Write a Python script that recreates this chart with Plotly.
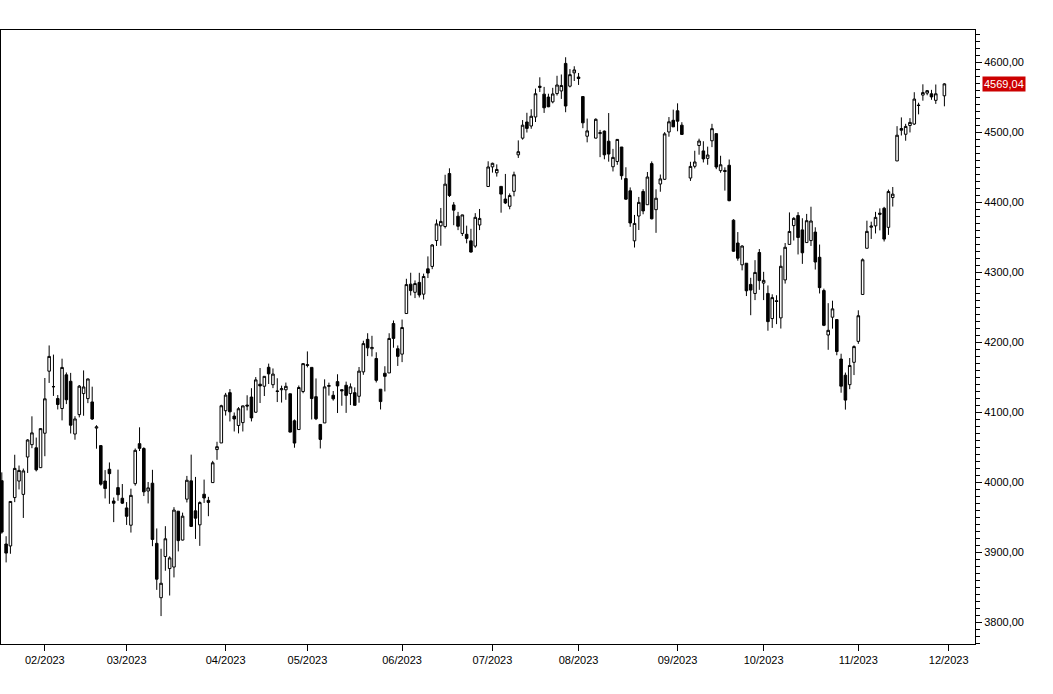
import pandas as pd
import plotly.graph_objects as go

# ---------------- data ----------------
holidays = ["2023-02-20", "2023-04-07", "2023-05-29", "2023-06-19",
            "2023-07-04", "2023-09-04", "2023-11-23", "2023-12-25"]
missing_sessions = ["2023-06-29", "2023-08-04", "2023-09-06", "2023-11-29"]
first_date, last_date = "2023-01-17", "2023-11-30"

month_labels = ["02/2023", "03/2023", "04/2023", "05/2023", "06/2023", "07/2023",
                "08/2023", "09/2023", "10/2023", "11/2023", "12/2023"]
y_ticks = [3800, 3900, 4000, 4100, 4200, 4300, 4400, 4500, 4600]

open_prices = [
    3999.28, 4002.25, 3911.84, 3909.04, 3978.14, 4001.74, 3982.71, 4036.08, 4053.72, 4049.27, 4020.85,
    4070.07, 4158.68, 4136.69, 4119.57, 4105.35, 4153.47, 4144.25, 4068.92, 4096.62, 4126.70, 4119.50, 4114.75, 4077.39, 4052.35, 4001.83, 4018.60, 3973.24, 3992.36, 3977.19,
    3963.34, 3938.68, 3998.02, 4055.15, 4048.26, 3987.55, 3998.66, 3912.77, 3835.12, 3894.01, 3876.74, 3878.93, 3958.69, 3917.47, 3975.89, 4002.04, 3959.21, 3939.21, 3982.93, 3974.13, 3999.53, 4046.74, 4056.18,
    4102.20, 4128.03, 4094.50, 4081.15, 4085.20, 4110.29, 4121.72, 4100.04, 4140.11, 4137.17, 4164.26, 4139.33, 4130.48, 4132.14, 4132.07, 4126.43, 4087.78, 4075.29, 4129.63,
    4166.79, 4164.10, 4122.25, 4082.61, 4084.73, 4136.98, 4124.25, 4143.74, 4132.24, 4138.54, 4126.65, 4127.95, 4122.85, 4157.68, 4204.15, 4190.78, 4176.80, 4132.96, 4155.71, 4156.16, 4226.71, 4190.74,
    4183.03, 4241.01, 4282.99, 4271.34, 4285.47, 4268.69, 4304.88, 4308.32, 4345.28, 4366.29, 4365.33, 4440.95, 4396.11, 4380.01, 4355.40, 4354.17, 4344.84, 4337.36, 4367.48, 4422.44,
    4450.48, 4442.04, 4422.62, 4404.54, 4394.23, 4415.55, 4467.69, 4491.50, 4514.61, 4508.86, 4521.78, 4563.87, 4554.38, 4550.16, 4543.39, 4555.19, 4558.96, 4598.26, 4565.75, 4584.82,
    4578.83, 4550.93, 4494.27, 4491.58, 4498.03, 4501.57, 4487.16, 4450.69, 4458.13, 4478.87, 4433.79, 4416.32, 4344.88, 4380.28, 4415.33, 4396.44, 4455.16, 4389.38, 4426.03, 4432.75, 4500.34, 4517.01,
    4530.60, 4510.06, 4434.55, 4451.30, 4480.98, 4473.27, 4462.65, 4487.78, 4497.98, 4445.13, 4445.41, 4452.81, 4374.36, 4341.74, 4310.62, 4312.88, 4282.63, 4269.65, 4328.18,
    4284.52, 4269.75, 4233.83, 4259.31, 4234.79, 4289.02, 4339.75, 4366.59, 4380.94, 4360.49, 4342.37, 4345.23, 4357.35, 4321.36, 4273.85, 4210.40, 4235.79, 4232.42, 4175.99, 4152.93, 4139.39, 4171.33,
    4201.27, 4268.26, 4334.23, 4364.27, 4366.21, 4384.37, 4391.41, 4364.15, 4406.66, 4458.97, 4505.30, 4497.08, 4509.55, 4511.70, 4538.77, 4553.04, 4555.84, 4554.86, 4545.55, 4552.00,
]
high_prices = [
    4015.39, 4014.16, 3922.94, 3972.96, 4039.31, 4023.92, 4019.55, 4061.57, 4094.21, 4063.85, 4077.16,
    4148.95, 4195.44, 4182.36, 4124.63, 4176.54, 4156.85, 4156.23, 4094.36, 4138.90, 4159.77, 4148.11, 4136.54, 4081.51, 4052.35, 4017.37, 4028.30, 3978.25, 4018.05, 3997.50,
    3971.73, 3990.84, 4048.29, 4078.49, 4050.00, 4000.41, 4017.81, 3934.05, 3905.05, 3937.29, 3894.26, 3964.46, 3958.91, 3956.62, 4009.08, 4039.49, 4007.66, 3972.74, 4003.83, 3979.20, 4030.59, 4057.85, 4110.75,
    4127.66, 4133.13, 4099.69, 4107.32, 4109.50, 4124.26, 4134.37, 4150.26, 4163.19, 4151.72, 4169.48, 4162.57, 4148.57, 4138.02, 4142.41, 4126.43, 4089.67, 4138.24, 4170.06,
    4186.92, 4164.10, 4148.30, 4082.61, 4147.02, 4142.30, 4130.35, 4154.28, 4132.80, 4143.74, 4141.25, 4135.54, 4164.67, 4202.20, 4212.91, 4209.22, 4185.68, 4132.96, 4165.74, 4212.87, 4231.10, 4195.44,
    4232.43, 4290.67, 4299.28, 4288.33, 4299.19, 4298.01, 4322.62, 4340.13, 4375.37, 4391.82, 4439.20, 4448.47, 4400.15, 4386.22, 4382.25, 4366.55, 4362.06, 4384.42, 4390.35, 4458.48,
    4456.46, 4454.06, 4422.62, 4440.39, 4412.60, 4443.64, 4488.34, 4517.38, 4527.76, 4532.85, 4562.30, 4578.43, 4564.74, 4555.00, 4563.41, 4580.62, 4582.47, 4607.07, 4590.16, 4594.22,
    4584.62, 4550.93, 4519.49, 4519.84, 4503.31, 4502.44, 4527.37, 4476.23, 4490.33, 4478.87, 4449.95, 4421.17, 4381.82, 4407.55, 4418.59, 4443.18, 4458.30, 4418.46, 4439.56, 4500.14, 4521.65, 4532.26,
    4541.25, 4514.29, 4457.81, 4473.53, 4490.77, 4487.11, 4479.39, 4511.99, 4497.98, 4466.36, 4449.85, 4461.03, 4375.70, 4357.40, 4338.51, 4313.01, 4292.07, 4317.27, 4333.15,
    4300.58, 4281.15, 4268.50, 4267.13, 4324.10, 4341.73, 4385.46, 4378.64, 4385.85, 4377.10, 4383.33, 4393.57, 4364.20, 4339.54, 4276.56, 4255.84, 4259.38, 4232.42, 4183.60, 4156.70, 4177.47, 4195.55,
    4245.64, 4319.72, 4373.62, 4372.21, 4386.26, 4391.20, 4393.40, 4418.03, 4421.76, 4508.67, 4521.17, 4511.99, 4520.12, 4557.11, 4542.14, 4568.43, 4560.31, 4560.52, 4568.14, 4570.00,
]
low_prices = [
    3984.57, 3926.59, 3885.54, 3897.86, 3971.64, 3989.79, 3949.06, 4013.29, 4048.70, 4015.55, 4020.44,
    4037.20, 4141.88, 4123.36, 4103.98, 4088.39, 4111.67, 4069.67, 4060.79, 4092.67, 4095.01, 4113.02, 4089.03, 4047.95, 3995.19, 3976.90, 3969.19, 3943.08, 3973.55, 3968.98,
    3939.05, 3928.16, 3995.17, 4044.61, 3980.31, 3969.76, 3908.70, 3846.32, 3808.86, 3873.63, 3838.24, 3864.11, 3901.27, 3916.89, 3971.19, 3936.17, 3919.05, 3909.16, 3970.49, 3951.53, 3999.53, 4032.10, 4056.18,
    4095.31, 4086.87, 4072.56, 4069.84, 4072.55, 4102.61, 4086.94, 4099.40, 4113.20, 4123.18, 4140.36, 4134.49, 4114.57, 4113.86, 4117.77, 4071.38, 4049.35, 4075.29, 4127.18,
    4164.12, 4089.72, 4088.86, 4048.28, 4084.73, 4123.81, 4116.65, 4098.92, 4109.29, 4099.12, 4110.27, 4109.86, 4113.62, 4153.50, 4180.20, 4179.68, 4142.54, 4103.98, 4129.73, 4156.16, 4192.18, 4166.15,
    4171.64, 4241.01, 4266.82, 4263.09, 4263.96, 4261.07, 4291.70, 4304.37, 4337.54, 4337.85, 4362.60, 4407.44, 4367.19, 4360.14, 4351.82, 4341.34, 4328.08, 4335.00, 4360.22, 4422.44,
    4442.29, 4436.61, 4385.05, 4397.40, 4389.92, 4408.46, 4463.23, 4489.36, 4499.56, 4504.90, 4514.59, 4557.48, 4527.56, 4535.79, 4541.29, 4552.42, 4547.58, 4528.56, 4564.01, 4573.14,
    4567.53, 4505.75, 4485.54, 4491.15, 4464.39, 4461.33, 4457.92, 4443.98, 4453.44, 4432.19, 4403.55, 4364.83, 4335.31, 4360.30, 4382.77, 4396.44, 4375.55, 4356.29, 4414.98, 4431.68, 4493.59, 4507.39,
    4501.35, 4496.01, 4430.46, 4448.38, 4467.89, 4456.83, 4453.52, 4478.69, 4447.21, 4442.11, 4416.61, 4401.38, 4329.17, 4316.49, 4302.70, 4265.98, 4238.63, 4260.21, 4274.86,
    4260.21, 4216.45, 4220.48, 4225.91, 4219.55, 4283.79, 4339.64, 4345.34, 4325.43, 4311.97, 4342.37, 4337.54, 4303.84, 4269.69, 4223.03, 4189.22, 4219.43, 4181.42, 4127.90, 4103.78, 4132.94, 4153.12,
    4197.74, 4268.26, 4334.23, 4347.53, 4355.41, 4359.76, 4343.94, 4353.34, 4393.82, 4458.97, 4495.31, 4487.83, 4499.66, 4510.36, 4525.51, 4545.05, 4552.80, 4546.32, 4540.51, 4537.00,
]
close_prices = [
    3990.97, 3928.86, 3898.85, 3972.61, 4019.81, 4016.95, 4016.22, 4060.43, 4070.56, 4017.77, 4076.60,
    4119.21, 4179.76, 4136.48, 4111.08, 4164.00, 4117.86, 4081.50, 4090.46, 4137.29, 4136.13, 4147.60, 4090.41, 4079.09, 3997.34, 3991.05, 4012.32, 3970.04, 3982.24, 3970.15,
    3951.39, 3981.35, 4045.64, 4048.42, 3986.37, 3992.01, 3918.32, 3861.59, 3855.76, 3919.29, 3891.93, 3960.28, 3916.64, 3951.57, 4002.87, 3936.97, 3948.72, 3970.99, 3977.53, 3971.27, 4027.81, 4050.83, 4109.31,
    4124.51, 4100.60, 4090.38, 4105.02, 4109.11, 4108.94, 4091.95, 4146.22, 4137.64, 4151.32, 4154.87, 4154.52, 4129.79, 4133.52, 4137.04, 4071.63, 4055.99, 4135.35, 4169.48,
    4167.87, 4119.58, 4090.75, 4061.22, 4136.25, 4138.12, 4119.17, 4137.64, 4130.62, 4124.08, 4136.28, 4109.90, 4158.77, 4198.05, 4191.98, 4192.63, 4145.58, 4115.24, 4151.28, 4205.45, 4205.52, 4179.83,
    4221.02, 4282.37, 4273.79, 4283.85, 4267.52, 4293.93, 4298.86, 4338.93, 4369.01, 4372.59, 4425.84, 4409.59, 4388.71, 4365.69, 4381.89, 4348.33, 4328.82, 4378.41, 4376.86, 4450.38,
    4455.59, 4446.82, 4411.59, 4398.95, 4409.53, 4439.26, 4472.16, 4510.04, 4505.42, 4522.79, 4554.98, 4565.72, 4534.87, 4536.34, 4554.64, 4567.46, 4566.75, 4537.41, 4582.23, 4588.96,
    4576.73, 4513.39, 4501.89, 4518.44, 4499.38, 4467.71, 4468.83, 4464.05, 4489.72, 4437.86, 4404.33, 4370.36, 4369.71, 4399.77, 4387.55, 4436.01, 4376.31, 4405.71, 4433.31, 4497.63, 4514.87, 4507.66,
    4515.77, 4496.83, 4451.14, 4457.49, 4487.46, 4461.90, 4467.44, 4505.10, 4450.32, 4453.53, 4443.95, 4402.20, 4330.00, 4320.06, 4337.44, 4273.53, 4274.51, 4299.70, 4288.05,
    4288.39, 4229.45, 4263.75, 4258.19, 4308.50, 4335.66, 4358.24, 4376.95, 4349.61, 4327.78, 4373.63, 4373.20, 4314.60, 4278.00, 4224.16, 4217.04, 4247.68, 4186.77, 4137.23, 4117.37, 4166.82, 4193.80,
    4237.86, 4317.78, 4358.34, 4365.98, 4378.38, 4382.78, 4347.35, 4415.24, 4411.55, 4495.70, 4502.88, 4508.24, 4514.02, 4547.38, 4538.19, 4556.62, 4559.34, 4550.43, 4554.89, 4569.04,
]

# ---------------- trading-day calendar (one slot per session) ----------------
calendar = [d for d in pd.bdate_range(first_date, "2023-12-29")
            if d.strftime("%Y-%m-%d") not in holidays]
slot = {d: i for i, d in enumerate(calendar)}
dates = [d for d in calendar
         if d <= pd.Timestamp(last_date) and d.strftime("%Y-%m-%d") not in missing_sessions]
assert len(dates) == len(open_prices) == len(high_prices) == len(low_prices) == len(close_prices)
x_pos = [slot[d] for d in dates]

tick_vals = []
for lab in month_labels:
    mm, yy = lab.split("/")
    first = next(d for d in calendar if d.month == int(mm) and d.year == int(yy))
    tick_vals.append(slot[first])

font = dict(family="Arial, Liberation Sans, sans-serif", size=11, color="black")

fig = go.Figure(go.Candlestick(
    x=x_pos, open=open_prices, high=high_prices, low=low_prices, close=close_prices,
    increasing=dict(fillcolor="white", line=dict(color="black", width=1)),
    decreasing=dict(fillcolor="black", line=dict(color="black", width=1)),
    whiskerwidth=0,
    hoverinfo="skip",
))

last_close = close_prices[-1]
fig.add_annotation(
    x=1, xref="paper", xanchor="left", xshift=7,
    y=last_close, yref="y", yanchor="middle",
    text=f"{last_close:.2f}".replace(".", ","),
    showarrow=False, font=dict(family=font["family"], size=11, color="white"),
    bgcolor="#cc0000", borderpad=1,
)

fig.update_layout(
    width=1053, height=694,
    margin=dict(l=1, r=78, t=30, b=50),
    paper_bgcolor="white", plot_bgcolor="white",
    showlegend=False, font=font, separators=",.",
    boxgap=0.15,
    xaxis=dict(
        range=[0.813, 227.11], rangeslider=dict(visible=False),
        tickmode="array", tickvals=tick_vals, ticktext=month_labels,
        showgrid=False, zeroline=False,
        showline=True, mirror=True, linecolor="black", linewidth=1,
        ticks="outside", ticklen=6, tickcolor="black", tickwidth=1,
        tickfont=font,
    ),
    yaxis=dict(
        side="right", range=[3769, 4646],
        tickmode="array", tickvals=y_ticks, tickformat=".2f",
        showgrid=False, zeroline=False,
        showline=True, mirror=True, linecolor="black", linewidth=1,
        ticks="outside", ticklen=6, tickcolor="black", tickwidth=1,
        minor=dict(tickmode="linear", tick0=3800, dtick=10, ticks="outside",
                   ticklen=4, tickcolor="black", tickwidth=1, showgrid=False),
        tickfont=font,
    ),
)

fig.write_html("out.html",
               config={"displayModeBar": False},
               post_script="document.body.style.margin='0';document.body.style.overflow='hidden';")
